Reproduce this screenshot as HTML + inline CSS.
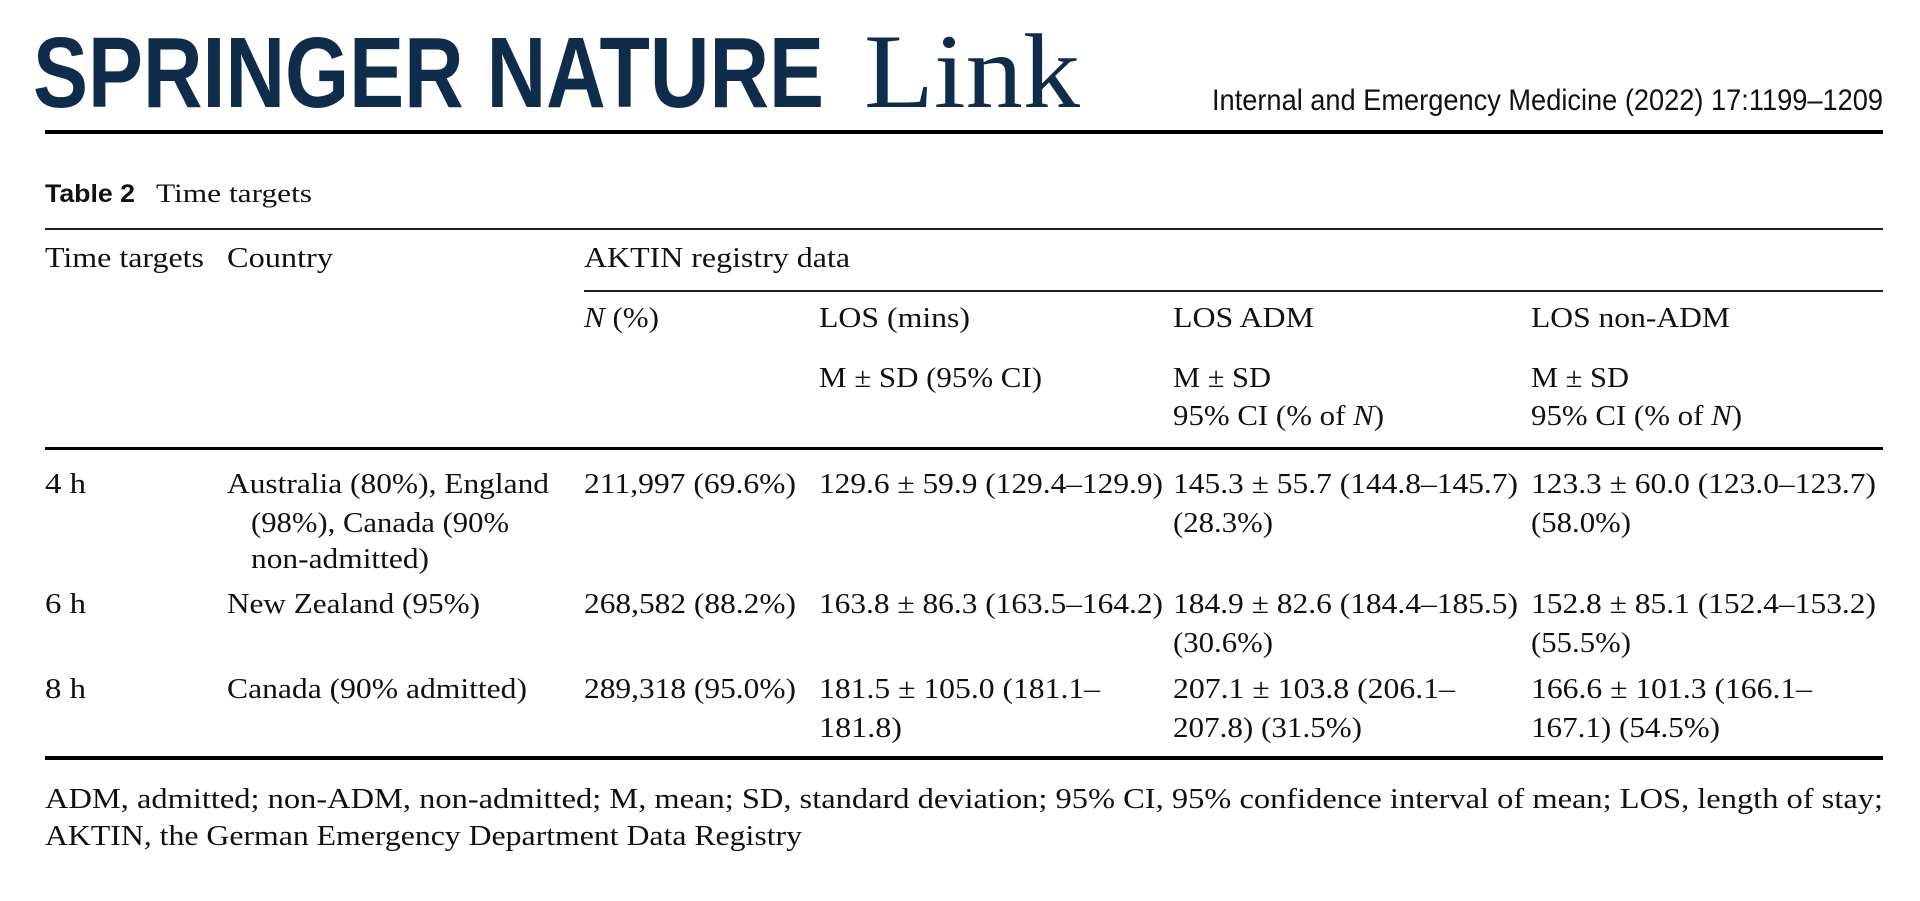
<!DOCTYPE html>
<html><head><meta charset="utf-8"><style>
html,body{margin:0;padding:0;background:#fff;}
svg{display:block;}
text{font-family:"Liberation Serif",serif;font-size:28px;fill:#111;}
.s{font-family:"Liberation Sans",sans-serif;}
</style></head><body>
<svg width="1920" height="901" viewBox="0 0 1920 901" xmlns="http://www.w3.org/2000/svg">
<text x="33" y="107" class="s" style="font-size:100px;font-weight:bold;fill:#0f2d4a" textLength="791" lengthAdjust="spacingAndGlyphs">SPRINGER NATURE</text>
<text x="864" y="107" style="font-size:106px;fill:#0f2d4a" textLength="216" lengthAdjust="spacingAndGlyphs">Link</text>
<text x="1212" y="110" class="s" style="font-size:30px" textLength="671" lengthAdjust="spacingAndGlyphs">Internal and Emergency Medicine (2022) 17:1199–1209</text>
<rect x="45" y="130" width="1838" height="4" fill="#000"/>
<text x="45" y="202" class="s" style="font-weight:bold;font-size:25px" textLength="90" lengthAdjust="spacingAndGlyphs">Table 2</text>
<text x="156" y="202" style="font-size:26px" textLength="156" lengthAdjust="spacingAndGlyphs">Time targets</text>
<rect x="45" y="228" width="1838" height="2" fill="#222"/>
<text x="45" y="267" textLength="159" lengthAdjust="spacingAndGlyphs">Time targets</text>
<text x="227" y="267" textLength="106" lengthAdjust="spacingAndGlyphs">Country</text>
<text x="584" y="267" textLength="266" lengthAdjust="spacingAndGlyphs">AKTIN registry data</text>
<rect x="584" y="290" width="1299" height="2" fill="#222"/>
<text x="584" y="327" textLength="75" lengthAdjust="spacingAndGlyphs"><tspan font-style="italic">N</tspan> (%)</text>
<text x="819" y="327" textLength="151" lengthAdjust="spacingAndGlyphs">LOS (mins)</text>
<text x="1173" y="327" textLength="141" lengthAdjust="spacingAndGlyphs">LOS ADM</text>
<text x="1531" y="327" textLength="199" lengthAdjust="spacingAndGlyphs">LOS non-ADM</text>
<text x="819" y="387" textLength="223" lengthAdjust="spacingAndGlyphs">M ± SD (95% CI)</text>
<text x="1173" y="387" textLength="98" lengthAdjust="spacingAndGlyphs">M ± SD</text>
<text x="1531" y="387" textLength="98" lengthAdjust="spacingAndGlyphs">M ± SD</text>
<text x="1173" y="425" textLength="211" lengthAdjust="spacingAndGlyphs">95% CI (% of <tspan font-style="italic">N</tspan>)</text>
<text x="1531" y="425" textLength="211" lengthAdjust="spacingAndGlyphs">95% CI (% of <tspan font-style="italic">N</tspan>)</text>
<rect x="45" y="447" width="1838" height="3" fill="#000"/>
<text x="45" y="493" textLength="41" lengthAdjust="spacingAndGlyphs">4 h</text>
<text x="227" y="493" textLength="322" lengthAdjust="spacingAndGlyphs">Australia (80%), England</text>
<text x="251" y="532" textLength="258" lengthAdjust="spacingAndGlyphs">(98%), Canada (90%</text>
<text x="251" y="568" textLength="178" lengthAdjust="spacingAndGlyphs">non-admitted)</text>
<text x="584" y="493" textLength="212" lengthAdjust="spacingAndGlyphs">211,997 (69.6%)</text>
<text x="819" y="493" textLength="344" lengthAdjust="spacingAndGlyphs">129.6 ± 59.9 (129.4–129.9)</text>
<text x="1173" y="493" textLength="345" lengthAdjust="spacingAndGlyphs">145.3 ± 55.7 (144.8–145.7)</text>
<text x="1531" y="493" textLength="345" lengthAdjust="spacingAndGlyphs">123.3 ± 60.0 (123.0–123.7)</text>
<text x="1173" y="532" textLength="100" lengthAdjust="spacingAndGlyphs">(28.3%)</text>
<text x="1531" y="532" textLength="100" lengthAdjust="spacingAndGlyphs">(58.0%)</text>
<text x="45" y="613" textLength="41" lengthAdjust="spacingAndGlyphs">6 h</text>
<text x="227" y="613" textLength="253" lengthAdjust="spacingAndGlyphs">New Zealand (95%)</text>
<text x="584" y="613" textLength="212" lengthAdjust="spacingAndGlyphs">268,582 (88.2%)</text>
<text x="819" y="613" textLength="344" lengthAdjust="spacingAndGlyphs">163.8 ± 86.3 (163.5–164.2)</text>
<text x="1173" y="613" textLength="345" lengthAdjust="spacingAndGlyphs">184.9 ± 82.6 (184.4–185.5)</text>
<text x="1531" y="613" textLength="345" lengthAdjust="spacingAndGlyphs">152.8 ± 85.1 (152.4–153.2)</text>
<text x="1173" y="652" textLength="100" lengthAdjust="spacingAndGlyphs">(30.6%)</text>
<text x="1531" y="652" textLength="100" lengthAdjust="spacingAndGlyphs">(55.5%)</text>
<text x="45" y="698" textLength="41" lengthAdjust="spacingAndGlyphs">8 h</text>
<text x="227" y="698" textLength="300" lengthAdjust="spacingAndGlyphs">Canada (90% admitted)</text>
<text x="584" y="698" textLength="212" lengthAdjust="spacingAndGlyphs">289,318 (95.0%)</text>
<text x="819" y="698" textLength="281" lengthAdjust="spacingAndGlyphs">181.5 ± 105.0 (181.1–</text>
<text x="819" y="737" textLength="83" lengthAdjust="spacingAndGlyphs">181.8)</text>
<text x="1173" y="698" textLength="282" lengthAdjust="spacingAndGlyphs">207.1 ± 103.8 (206.1–</text>
<text x="1173" y="737" textLength="189" lengthAdjust="spacingAndGlyphs">207.8) (31.5%)</text>
<text x="1531" y="698" textLength="281" lengthAdjust="spacingAndGlyphs">166.6 ± 101.3 (166.1–</text>
<text x="1531" y="737" textLength="189" lengthAdjust="spacingAndGlyphs">167.1) (54.5%)</text>
<rect x="45" y="756" width="1838" height="4" fill="#000"/>
<text x="45" y="808" textLength="1838" lengthAdjust="spacingAndGlyphs">ADM, admitted; non-ADM, non-admitted; M, mean; SD, standard deviation; 95% CI, 95% confidence interval of mean; LOS, length of stay;</text>
<text x="45" y="845" textLength="757" lengthAdjust="spacingAndGlyphs">AKTIN, the German Emergency Department Data Registry</text>
</svg>
</body></html>
